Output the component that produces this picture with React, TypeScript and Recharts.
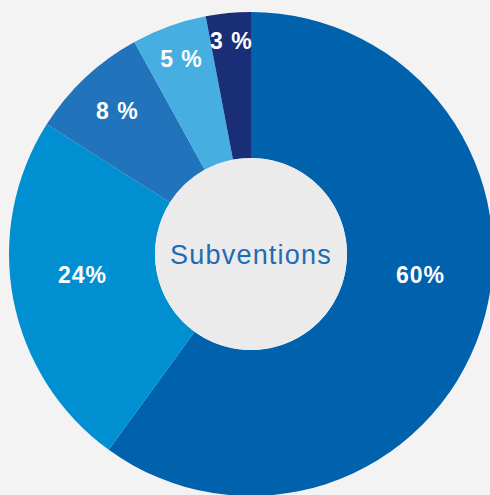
import React from 'react';
import { PieChart, Pie, Cell, Label } from 'recharts';

const categories = ['A', 'B', 'C', 'D', 'E'];
const shares = [60, 24, 8, 5, 3];
const shareLabels = ['60%', '24%', '8 %', '5 %', '3 %'];
const colors = ['#0061ad', '#0090d1', '#2174bb', '#47aee2', '#1a2d77'];
const centerTitle = 'Subventions';

const data = categories.map((name, i) => ({ name, value: shares[i], label: shareLabels[i] }));
const RAD = Math.PI / 180;

const renderLabel = (props: any) => {
  const { cx, cy, midAngle, outerRadius, percent, index } = props;
  let x: number;
  let y: number;
  if (percent >= 0.2) {
    // big slices: labels sit level, either side of the hole
    const side = Math.cos(-midAngle * RAD) >= 0 ? 1 : -1;
    x = cx + side * (outerRadius - 73);
    y = cy + 21;
  } else {
    const r = outerRadius - 46 + (0.08 - percent) * 360;
    x = cx + r * Math.cos(-midAngle * RAD);
    y = cy + r * Math.sin(-midAngle * RAD);
  }
  return (
    <text
      x={x + 0.5}
      y={y}
      fill="#ffffff"
      textAnchor="middle"
      dominantBaseline="central"
      fontFamily="'Liberation Sans', Arial, sans-serif"
      fontWeight="bold"
      fontSize={23}
      letterSpacing={1}
    >
      {shareLabels[index]}
    </text>
  );
};

const CenterTitle = (props: any) => {
  const { viewBox } = props;
  const cx = viewBox?.cx ?? 251;
  const cy = viewBox?.cy ?? 254;
  return (
    <text
      x={cx}
      y={cy + 1}
      fill="#1f6bb3"
      textAnchor="middle"
      dominantBaseline="central"
      fontFamily="'Liberation Sans', Arial, sans-serif"
      fontSize={27}
      letterSpacing={1.2}
    >
      {centerTitle}
    </text>
  );
};

export default function App() {
  return (
    <div
      style={{
        position: 'fixed',
        top: 0,
        left: 0,
        width: 490,
        height: 495,
        background: '#f3f3f3',
        overflow: 'hidden',
      }}
    >
      <PieChart width={490} height={495} margin={{ top: 0, right: 0, bottom: 0, left: 0 }}>
        <Pie
          data={data}
          dataKey="value"
          nameKey="name"
          cx={251}
          cy={254}
          innerRadius={96}
          outerRadius={242}
          startAngle={90}
          endAngle={-270}
          stroke="none"
          label={renderLabel}
          labelLine={false}
          isAnimationActive={false}
        >
          {data.map((d, i) => (
            <Cell key={d.name} fill={colors[i]} />
          ))}
        </Pie>
        <Pie
          data={[{ name: 'center', value: 1 }]}
          dataKey="value"
          cx={251}
          cy={254}
          innerRadius={0}
          outerRadius={96}
          fill="#ebebeb"
          stroke="none"
          isAnimationActive={false}
        >
          <Label position="center" content={<CenterTitle />} />
        </Pie>
      </PieChart>
    </div>
  );
}
